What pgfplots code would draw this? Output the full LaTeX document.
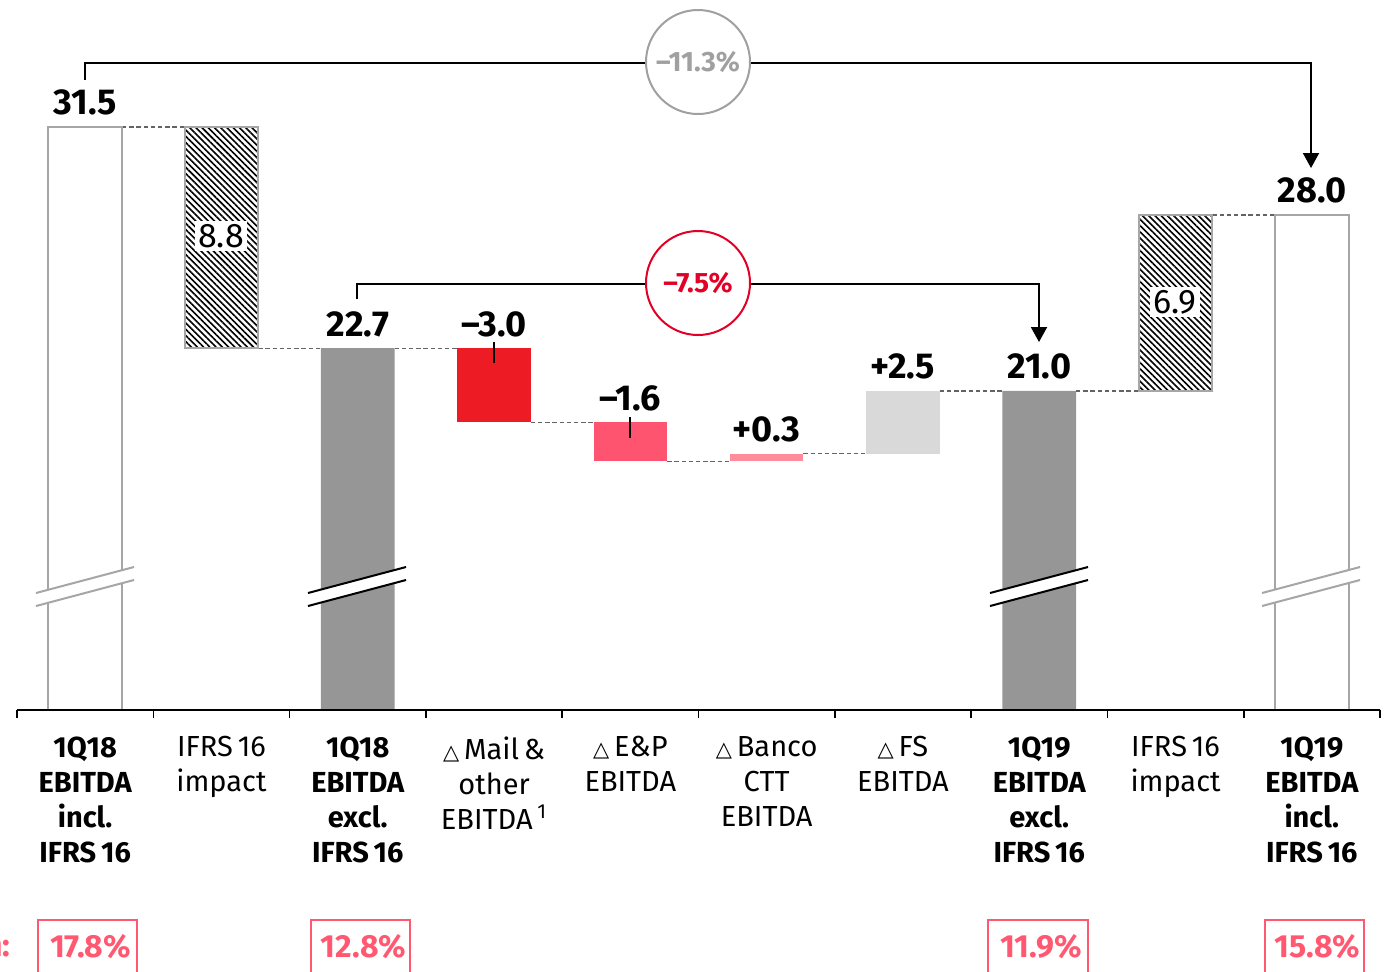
\documentclass[border=0pt]{standalone}
\usepackage{pgfplots}
\pgfplotsset{compat=1.18}
\usetikzlibrary{patterns.meta, arrows.meta}
\usepackage{fontspec}
\setmainfont{Fira Sans}
\newfontfamily\djfont{DejaVu Sans}

\definecolor{wbord}{RGB}{166,166,166}
\definecolor{dgrey}{RGB}{150,150,150}
\definecolor{ctred}{RGB}{237,28,36}
\definecolor{pinka}{RGB}{255,84,112}
\definecolor{pinkb}{RGB}{255,140,155}
\definecolor{lgrey}{RGB}{217,217,217}
\definecolor{circred}{RGB}{226,0,38}
\definecolor{circgrey}{RGB}{160,160,160}
\definecolor{margpink}{RGB}{255,88,112}
\definecolor{dashgrey}{RGB}{100,100,100}

\newcommand{\valfont}{\fontsize{18}{21}\selectfont\bfseries}
\newcommand{\labfont}{\fontsize{14.5}{17.5}\selectfont}
\newcommand{\circfont}{\fontsize{14}{16}\selectfont\bfseries}
\newcommand{\hfont}{\fontsize{17}{19}\selectfont}
\newcommand{\mfont}{\fontsize{16}{18}\selectfont\bfseries}
\newcommand{\tri}{{\djfont\fontsize{10.5}{10.5}\selectfont △}}

\pgfplotsset{
  wfbase/.style={scale only axis, width=681.5pt, height=355pt,
    xmin=-0.5, xmax=9.5, ymin=8.31, ymax=36.55,
    at={(8.5pt,-355pt)}, anchor=south west},
  wf/.style={wfbase, hide axis, ybar stacked, bar width=0.54},
  conn/.style={dashgrey, line width=0.55pt, dash pattern=on 2.2pt off 1.4pt, forget plot},
}

\begin{document}
\begin{tikzpicture}
\useasboundingbox (0,0) rectangle (693.5pt,-485.5pt);

% dashed connectors
\begin{axis}[wfbase, hide axis]
\addplot[conn] coordinates {(0.27,31.5) (0.73,31.5)};
\addplot[conn] coordinates {(1.27,22.7) (1.73,22.7)};
\addplot[conn] coordinates {(2.27,22.7) (2.73,22.7)};
\addplot[conn] coordinates {(3.27,19.75) (3.73,19.75)};
\addplot[conn] coordinates {(4.27,18.2) (4.73,18.2)};
\addplot[conn] coordinates {(5.27,18.5) (5.73,18.5)};
\addplot[conn] coordinates {(6.27,21.0) (6.73,21.0)};
\addplot[conn] coordinates {(7.27,21.0) (7.73,21.0)};
\addplot[conn] coordinates {(8.27,28.0) (8.73,28.0)};
\end{axis}

% EBITDA incl. IFRS 16 (white)
\begin{axis}[wf]
\addplot[fill=white, draw=wbord, line width=1pt]
  coordinates {(0,31.5) (9,28.0)};
\end{axis}

% EBITDA excl. IFRS 16 (dark grey)
\begin{axis}[wf]
\addplot[fill=dgrey, draw=none]
  coordinates {(2,22.7) (7,21.0)};
\end{axis}

% IFRS 16 impact (hatched, floating)
\begin{axis}[wf]
\addplot[draw=none, fill=none, forget plot] coordinates {(1,22.7) (8,21.0)};
\addplot[preaction={fill=white}, pattern={Lines[angle=-45,distance=2.2pt,line width=0.8pt]},
  pattern color=black, draw=wbord, line width=1pt]
  coordinates {(1,8.8) (8,7.0)};
\end{axis}

% Mail & other
\begin{axis}[wf]
\addplot[draw=none, fill=none, forget plot] coordinates {(3,19.75)};
\addplot[fill=ctred, draw=none] coordinates {(3,2.95)};
\end{axis}

% E&P
\begin{axis}[wf]
\addplot[draw=none, fill=none, forget plot] coordinates {(4,18.2)};
\addplot[fill=pinka, draw=none] coordinates {(4,1.55)};
\end{axis}

% Banco CTT
\begin{axis}[wf]
\addplot[draw=none, fill=none, forget plot] coordinates {(5,18.2)};
\addplot[fill=pinkb, draw=none] coordinates {(5,0.3)};
\end{axis}

% FS
\begin{axis}[wf]
\addplot[draw=none, fill=none, forget plot] coordinates {(6,18.5)};
\addplot[fill=lgrey, draw=none] coordinates {(6,2.5)};
\end{axis}

% category axis + value labels
\begin{axis}[wfbase,
  axis x line*=bottom, axis y line=none,
  x axis line style={-, line width=0.9pt},
  xtick={0,...,9}, major tick length=0pt,
  minor xtick={-0.5,0.5,...,9.5}, minor tick length=4pt,
  tick align=outside, tick style={black, line width=0.8pt},
  ytick=\empty,
  xticklabel style={font=\labfont, align=center, text width=80pt,
    anchor=north, inner sep=0pt, yshift=-13pt},
  xticklabels={
    {\bfseries 1Q18\\EBITDA\\incl.\\IFRS\,16},
    {IFRS\,16\\impact},
    {\bfseries 1Q18\\EBITDA\\excl.\\IFRS\,16},
    {\tri\,Mail\,\&\\other\\EBITDA\,\textsuperscript{1}},
    {\tri\,E\&P\\EBITDA},
    {\tri\,Banco\\CTT\\EBITDA},
    {\tri\,FS\\EBITDA},
    {\bfseries 1Q19\\EBITDA\\excl.\\IFRS\,16},
    {IFRS\,16\\impact},
    {\bfseries 1Q19\\EBITDA\\incl.\\IFRS\,16}},
]
\addplot[only marks, mark=none, forget plot, nodes near coords, point meta=explicit symbolic,
  every node near coord/.style={font=\valfont, text=black, anchor=south, inner sep=0pt, yshift=5.5pt}]
  coordinates {(0,31.5) [31.5] (2,22.7) [22.7] (3,22.7) [–3.0] (4,19.75) [–1.6]
               (5,18.5) [+0.3] (6,21.0) [+2.5] (7,21.0) [21.0] (9,28.0) [28.0]};
\end{axis}

\begin{scope}[x=0.5pt, y=-0.5pt]
  % brackets
  \draw[line width=1pt, -{Triangle[width=8pt,length=7.5pt]}]
    (85,80) -- (85,63) -- (1311,63) -- (1311,168);
  \node[circle, draw=circgrey, line width=1pt, fill=white, minimum size=52pt,
    inner sep=0pt, font=\circfont, text=circgrey] at (698,62) {–11.3\%};
  \draw[line width=1pt, -{Triangle[width=8pt,length=7.5pt]}]
    (357,299) -- (357,284) -- (1039,284) -- (1039,342);
  \node[circle, draw=circred, line width=1pt, fill=white, minimum size=52pt,
    inner sep=0pt, font=\circfont, text=circred] at (698,283) {–7.5\%};
  % leader ticks
  \draw[line width=0.6pt] (494,342) -- (494,363);
  \draw[line width=0.6pt] (630,417) -- (630,438);
  % axis breaks
  \foreach \c/\col in {85/wbord, 357/black, 1039/black, 1311/wbord} {
    \fill[white] (\c-49,606) -- (\c+49,580) -- (\c+49,567) -- (\c-49,593) -- cycle;
    \draw[\col, line width=1pt] (\c-49,606) -- (\c+49,580) (\c-49,593) -- (\c+49,567);
  }
  % hatched labels
  \node[fill=white, inner xsep=1.5pt, inner ysep=1.5pt, font=\hfont] at (221,236) {8.8};
  \node[fill=white, inner xsep=1.5pt, inner ysep=1.5pt, font=\hfont] at (1175,302) {6.9};
  % margins
  \node[anchor=east, inner sep=0pt, text=margpink, font=\mfont] at (11,947) {Margin:};
  \foreach \a/\b/\t in {38/137/17.8, 311/410/12.8, 988/1088/11.9, 1265/1364/15.8} {
    \draw[margpink, line width=1pt] (\a,995) -- (\a,920) -- (\b,920) -- (\b,995);
    \node[text=margpink, font=\mfont] at ({(\a+\b)/2+3},947) {\t\%};
  }
\end{scope}
\end{tikzpicture}
\end{document}
